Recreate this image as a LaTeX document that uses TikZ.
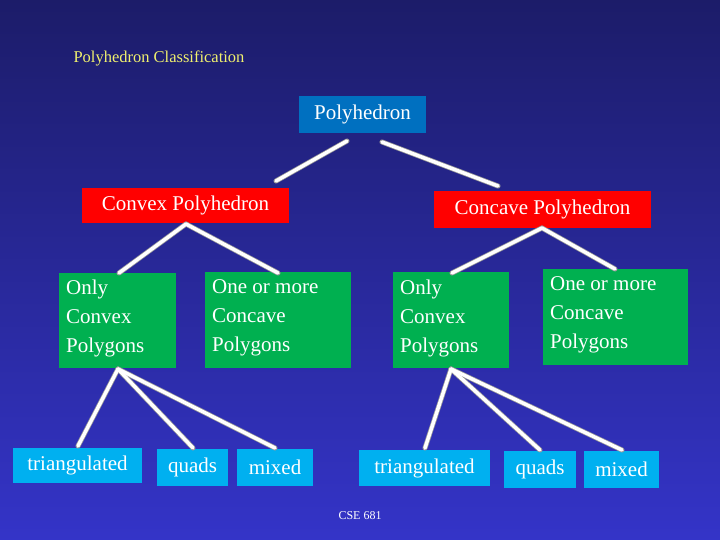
\documentclass[tikz,border=0pt]{standalone}
\usepackage{fontspec}
\setmainfont{Liberation Serif}
\definecolor{bgtop}{RGB}{28,28,105}
\definecolor{bgbot}{RGB}{52,52,200}
\definecolor{rootblue}{RGB}{0,112,192}
\definecolor{boxred}{RGB}{255,0,0}
\definecolor{boxgreen}{RGB}{0,176,80}
\definecolor{boxcyan}{RGB}{0,176,240}
\definecolor{titley}{RGB}{240,240,110}
\tikzset{
  bx/.style={inner sep=0pt, text=white, font=\fontsize{21}{29}\selectfont},
  conn/.style={line width=3.5pt, white, line cap=round},
  shadowln/.style={line width=5pt, black!40, line cap=round}
}
\newcommand{\bxat}[6]{% name, x1,y1,x2,y2, fill
  \path[fill=#6] (#2,#3) rectangle (#4,#5);
  \coordinate (#1) at ({(#2+#4)/2},{(#3+#5)/2});}
\begin{document}
\begin{tikzpicture}[x=1pt,y=-1pt]
\shade[top color=bgtop,bottom color=bgbot] (0,0) rectangle (720,540);
\useasboundingbox (0,0) rectangle (720,540);
\node[anchor=west,text=titley,font=\fontsize{16.5}{20}\selectfont] (title) at (70,58) {Polyhedron Classification};
\node[font=\fontsize{12}{14}\selectfont,text=white] (cse) at (360,516) {CSE 681};
% boxes
\bxat{root}{299}{96}{426}{133}{rootblue}
\bxat{cvx}{82}{188}{289}{223}{boxred}
\bxat{ccv}{434}{191}{651}{228}{boxred}
\bxat{ol}{59}{273}{176}{368}{boxgreen}
\bxat{ml}{205}{272}{351}{368}{boxgreen}
\bxat{or}{393}{272}{509}{368}{boxgreen}
\bxat{mr}{543}{269}{688}{365}{boxgreen}
\bxat{tl}{13}{448}{142}{483}{boxcyan}
\bxat{ql}{157}{449}{228}{486}{boxcyan}
\bxat{xl}{237}{449}{313}{486}{boxcyan}
\bxat{tr}{359}{450}{490}{486}{boxcyan}
\bxat{qr}{504}{451}{576}{488}{boxcyan}
\bxat{xr}{584}{451}{659}{488}{boxcyan}
% labels
\node[bx] (troot) at (root) {Polyhedron};
\node[bx] (tcvx) at (cvx) {Convex Polyhedron};
\node[bx] (tccv) at (ccv) {Concave Polyhedron};
\node[bx,anchor=north west,align=left] (tol) at (66,280) {Only\\Convex\\Polygons};
\node[bx,anchor=north west,align=left] (tml) at (212,279) {One or more\\Concave\\Polygons};
\node[bx,anchor=north west,align=left] (tor) at (400,280) {Only\\Convex\\Polygons};
\node[bx,anchor=north west,align=left] (tmr) at (550,276) {One or more\\Concave\\Polygons};
\node[bx] (ttl) at (tl) {triangulated};
\node[bx] (tql) at (ql) {quads};
\node[bx] (txl) at (xl) {mixed};
\node[bx] (ttr) at (tr) {triangulated};
\node[bx] (tqr) at (qr) {quads};
\node[bx] (txr) at (xr) {mixed};
% connector end points
\coordinate (a1) at (347,141); \coordinate (a2) at (276,181);
\coordinate (b1) at (382,142); \coordinate (b2) at (498,186);
\coordinate (c0) at (186,224); \coordinate (c1) at (119,273); \coordinate (c2) at (278,273);
\coordinate (d0) at (542,228); \coordinate (d1) at (452,273); \coordinate (d2) at (615,269);
\coordinate (e0) at (118,369); \coordinate (e1) at (78,446); \coordinate (e2) at (193,448); \coordinate (e3) at (275,448);
\coordinate (f0) at (451,369); \coordinate (f1) at (425,448); \coordinate (f2) at (540,450); \coordinate (f3) at (622,450);
\foreach \s in {shadowln,conn}{
  \draw[\s] (a1) -- (a2);
  \draw[\s] (b1) -- (b2);
  \draw[\s] (c0) -- (c1); \draw[\s] (c0) -- (c2);
  \draw[\s] (d0) -- (d1); \draw[\s] (d0) -- (d2);
  \draw[\s] (e0) -- (e1); \draw[\s] (e0) -- (e2); \draw[\s] (e0) -- (e3);
  \draw[\s] (f0) -- (f1); \draw[\s] (f0) -- (f2); \draw[\s] (f0) -- (f3);
}
\end{tikzpicture}
\end{document}
